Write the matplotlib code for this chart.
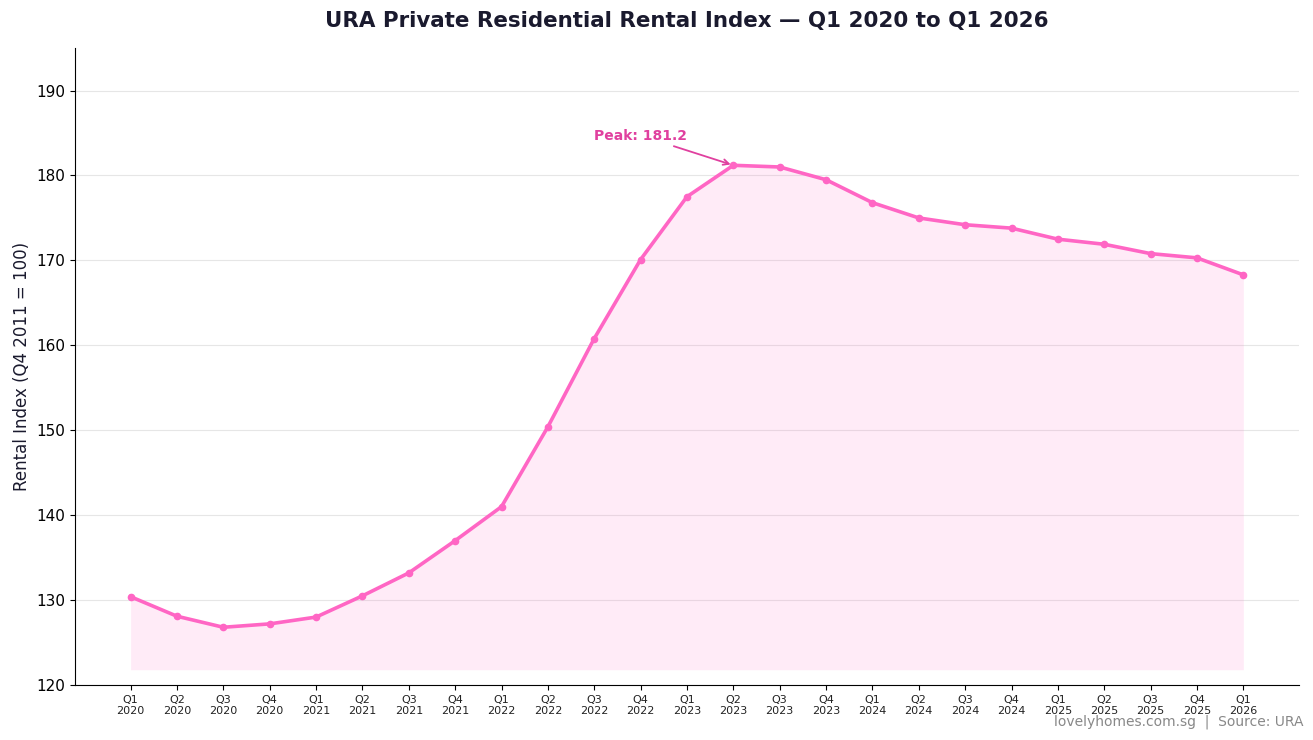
import matplotlib
matplotlib.use("Agg")
import matplotlib.pyplot as plt

quarters = ["Q1\n2020", "Q2\n2020", "Q3\n2020", "Q4\n2020",
            "Q1\n2021", "Q2\n2021", "Q3\n2021", "Q4\n2021",
            "Q1\n2022", "Q2\n2022", "Q3\n2022", "Q4\n2022",
            "Q1\n2023", "Q2\n2023", "Q3\n2023", "Q4\n2023",
            "Q1\n2024", "Q2\n2024", "Q3\n2024", "Q4\n2024",
            "Q1\n2025", "Q2\n2025", "Q3\n2025", "Q4\n2025",
            "Q1\n2026"]
rental_index = [130.4, 128.1, 126.8, 127.2,
                128.0, 130.5, 133.2, 137.0,
                141.0, 150.4, 160.8, 170.1,
                177.5, 181.2, 181.0, 179.5,
                176.8, 175.0, 174.2, 173.8,
                172.5, 171.9, 170.8, 170.3,
                168.3]

LINE = "#ff66c4"
ACCENT = "#e0409f"

fig = plt.figure(figsize=(13.13, 7.4), dpi=100)
ax = fig.add_axes([0.0571, 0.0743, 0.9322, 0.8607])

x = list(range(len(quarters)))
ax.fill_between(x, rental_index, min(rental_index) - 5, color=LINE, alpha=0.13, linewidth=0)
ax.plot(x, rental_index, color=LINE, linewidth=2.6, marker="o", markersize=4.5, zorder=3)

peak_i = rental_index.index(max(rental_index))
ax.annotate(f"Peak: {rental_index[peak_i]:.1f}",
            xy=(peak_i, rental_index[peak_i]), xytext=(10.0, 184.7),
            fontsize=10, fontweight="bold", color=ACCENT, va="center",
            arrowprops=dict(arrowstyle="->", color=ACCENT, lw=1.3))

ax.set_ylim(120, 195)
ax.set_yticks(range(120, 191, 10))
ax.set_xticks(x)
ax.set_xticklabels(quarters, fontsize=8, color="#222222")
ax.tick_params(axis="y", labelsize=11)
ax.set_ylabel("Rental Index (Q4 2011 = 100)", fontsize=12, color="#1a1a2e")
ax.set_title("URA Private Residential Rental Index — Q1 2020 to Q1 2026",
             fontsize=15.4, fontweight="bold", color="#1a1a2e", pad=15)
ax.grid(axis="y", color="#e6e6e6", linewidth=0.8)
ax.set_axisbelow(True)
for s in ("top", "right"):
    ax.spines[s].set_visible(False)

fig.text(0.9925, 0.025, "lovelyhomes.com.sg  |  Source: URA",
         ha="right", va="center", fontsize=10, color="#888888")

fig.savefig("out.png", dpi=100)
